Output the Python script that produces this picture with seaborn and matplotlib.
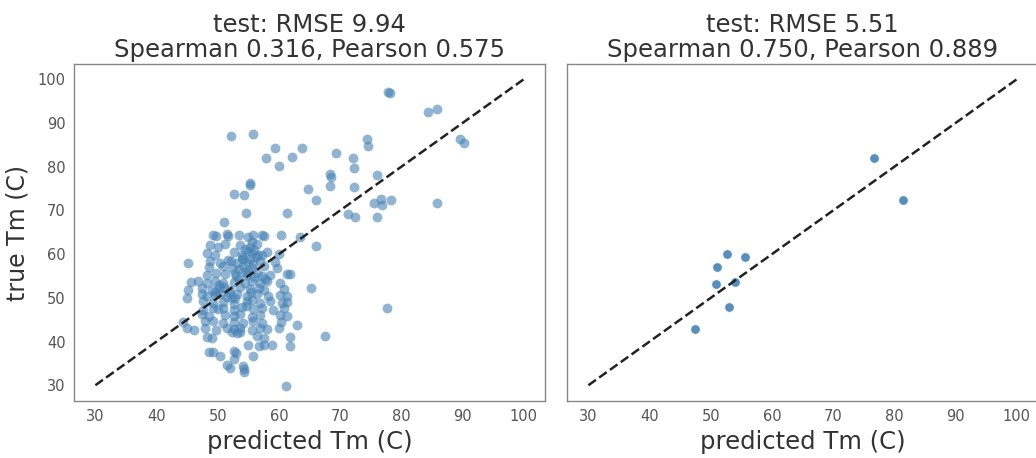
import numpy as np
import pandas as pd
import matplotlib
matplotlib.use('Agg')
import matplotlib.pyplot as plt
import seaborn as sns

# ----------------------------------------------------
# Data
# ----------------------------------------------------
# train set: sparse points around the cluster
pred_sparse = [77.9, 78.2, 84.3, 85.8, 89.6, 90.2, 52.1, 55.8, 59.4, 63.7, 57.9, 60.1, 62.1,
               69.3, 72.1, 72.3, 74.4, 74.6, 68.3, 68.6, 68.3, 72.3, 76.1, 64.7, 66.0, 55.3,
               55.3, 52.6, 54.3, 54.6, 61.4, 51.0, 75.6, 76.7, 76.9, 78.4, 76.1, 71.3, 72.5,
               85.8, 66.0, 63.5, 65.3, 77.6, 67.5, 62.9, 61.2, 45.2, 45.7, 45.2, 44.9, 44.3,
               44.9, 46.2]
true_sparse = [97.1, 96.9, 92.6, 93.3, 86.3, 85.5, 87.0, 87.6, 84.4, 84.4, 82.0, 80.2, 82.3,
               83.1, 82.0, 79.8, 86.3, 84.8, 78.4, 77.7, 75.6, 75.3, 78.1, 74.9, 72.4, 76.4,
               75.9, 73.8, 73.5, 69.5, 69.5, 67.4, 71.7, 72.7, 71.3, 72.4, 68.5, 69.2, 68.5,
               71.7, 61.8, 63.9, 52.2, 47.6, 41.2, 43.7, 29.9, 57.9, 53.6, 51.9, 50.0, 44.4,
               43.1, 42.7]

# train set: dense cluster (roughly row by row, top to bottom)
pred_cluster = [
    49.2, 49.8, 51.5, 51.7, 53.4, 55.0, 55.8, 57.2, 57.6, 60.4,
    48.7, 50.1, 51.2, 53.7, 55.3, 56.4, 55.6, 54.5,
    48.2, 49.6, 52.6, 53.9, 55.6, 54.9, 57.2, 58.1, 60.0, 56.3,
    48.7, 50.4, 51.7, 53.1, 54.8, 55.8, 56.9, 59.4, 54.2, 52.2,
    48.5, 50.9, 52.3, 54.2, 55.6, 57.5, 59.7, 53.4, 55.0,
    48.2, 49.8, 51.2, 52.8, 54.8, 56.4, 58.6, 61.3, 61.9, 55.9, 57.3,
    46.8, 48.2, 49.6, 50.9, 52.6, 54.5, 55.6, 56.9, 58.0, 60.2, 53.5, 57.7,
    47.4, 49.0, 50.4, 52.0, 53.7, 55.3, 56.7, 57.5, 60.8, 51.1, 49.5,
    47.4, 48.2, 49.6, 51.5, 53.1, 54.8, 56.4, 58.3, 60.2, 61.3, 50.3, 52.3,
    47.6, 49.3, 50.9, 52.6, 54.8, 56.9, 58.6, 60.5, 61.3, 55.6,
    47.6, 49.3, 50.1, 50.9, 52.6, 53.9, 55.8, 57.2, 59.1, 60.8, 54.6,
    47.4, 48.5, 51.2, 52.6, 53.7, 55.6, 56.9, 60.2, 61.3,
    49.3, 50.9, 52.6, 54.2, 55.8, 57.2, 60.4, 48.0,
    47.9, 49.8, 51.5, 52.6, 53.7, 55.6, 56.9, 58.0, 60.0,
    52.3, 53.1, 53.7,
    48.2, 49.0, 56.4, 57.5, 61.8,
    55.0, 56.7, 57.5, 58.9, 61.8,
    48.6, 49.3, 52.6, 53.0,
    50.4, 55.8, 52.6,
    51.5, 54.1, 52.0, 54.3, 54.3,
    # extra points in the dense core
    54.0, 55.2, 56.0, 53.0, 51.8, 50.2, 55.4, 54.4, 56.6, 52.9,
]
true_cluster = [
    64.5, 64.1, 64.6, 64.2, 64.3, 64.0, 64.4, 64.3, 64.2, 64.3,
    62.2, 61.7, 62.4, 62.0, 61.6, 62.3, 62.9, 61.2,
    60.3, 59.8, 60.5, 59.9, 60.2, 60.8, 59.7, 60.4, 60.0, 59.3,
    58.4, 57.9, 58.6, 58.0, 58.3, 57.8, 58.5, 58.1, 58.9, 58.4,
    57.0, 57.3, 56.8, 57.2, 56.9, 57.3, 56.8, 56.5, 56.2,
    55.3, 55.8, 55.4, 55.7, 55.2, 55.6, 55.3, 55.5, 55.4, 54.8, 55.0,
    53.8, 53.4, 53.9, 53.5, 53.7, 53.3, 53.8, 53.4, 53.9, 53.5, 54.3, 54.4,
    52.3, 51.9, 52.2, 51.8, 52.4, 52.0, 52.3, 51.7, 52.1, 52.6, 51.3,
    50.8, 50.4, 50.7, 50.3, 50.9, 50.5, 50.8, 50.4, 50.7, 50.5, 50.9, 50.0,
    49.2, 48.8, 49.1, 48.7, 49.3, 48.9, 49.2, 48.8, 49.1, 49.6,
    47.3, 47.7, 47.4, 47.6, 47.2, 47.8, 47.4, 47.6, 47.3, 47.7, 48.1,
    46.2, 45.8, 46.1, 45.9, 46.3, 45.7, 46.1, 46.0, 45.8,
    44.6, 44.3, 44.5, 44.2, 44.7, 44.3, 44.5, 44.8,
    43.0, 42.7, 43.1, 42.8, 43.0, 42.6, 43.2, 42.9, 43.1,
    42.1, 41.9, 42.2,
    41.1, 40.8, 41.2, 40.9, 41.0,
    39.2, 39.0, 39.3, 39.1, 39.0,
    37.7, 37.5, 37.8, 37.4,
    36.8, 36.7, 36.1,
    34.6, 34.4, 33.9, 33.7, 33.0,
    59.2, 58.8, 61.0, 55.0, 51.0, 53.0, 51.4, 56.0, 59.9, 49.9,
]

# test set
pred_test = [76.7, 81.5, 52.6, 55.6, 51.0, 50.8, 53.9, 53.0, 47.5]
true_test = [82.0, 72.4, 60.0, 59.3, 57.1, 53.2, 53.6, 47.8, 42.9]

diag = [30, 100]
titles = ["test: RMSE 9.94\nSpearman 0.316, Pearson 0.575",
          "test: RMSE 5.51\nSpearman 0.750, Pearson 0.889"]

train_df = pd.DataFrame({'pred': pred_sparse + pred_cluster,
                         'true': true_sparse + true_cluster})
test_df = pd.DataFrame({'pred': pred_test, 'true': true_test})

# ----------------------------------------------------
# Plot
# ----------------------------------------------------
sns.set_style('white')
plt.rcParams['text.color'] = '#333333'
plt.rcParams['axes.labelcolor'] = '#333333'
plt.rcParams['xtick.color'] = '#555555'
plt.rcParams['ytick.color'] = '#555555'

fig = plt.figure(figsize=(10.36, 4.58), dpi=100)
ax1 = fig.add_axes([0.0714, 0.1245, 0.4546, 0.7355])
ax2 = fig.add_axes([0.5473, 0.1245, 0.4546, 0.7355], sharey=ax1)

color = 'steelblue'
sns.scatterplot(data=train_df, x='pred', y='true', ax=ax1, color=color,
                alpha=0.6, s=50, linewidth=0)
sns.scatterplot(data=test_df, x='pred', y='true', ax=ax2, color=color,
                alpha=0.9, s=50, edgecolor='white', linewidth=0.8)

for ax, title in zip([ax1, ax2], titles):
    ax.plot(diag, diag, linestyle='--', color='#222222', linewidth=1.8, zorder=3)
    ax.set_title(title, fontsize=17.5, color='#333333', linespacing=1.05, pad=5)
    ax.set_xlabel('predicted Tm (C)', fontsize=17.5, labelpad=4)
    ax.set_xticks([30, 40, 50, 60, 70, 80, 90, 100])
    ax.tick_params(axis='both', labelsize=10.5, length=0, pad=6)
    for sp in ax.spines.values():
        sp.set_color('#888888')
        sp.set_linewidth(1.0)

ax1.set_ylabel('true Tm (C)', fontsize=17, labelpad=6)
ax1.set_yticks([30, 40, 50, 60, 70, 80, 90, 100])
ax2.set_ylabel('')
ax2.tick_params(axis='y', labelleft=False)

fig.savefig('out.png', dpi=100)
plt.close()
